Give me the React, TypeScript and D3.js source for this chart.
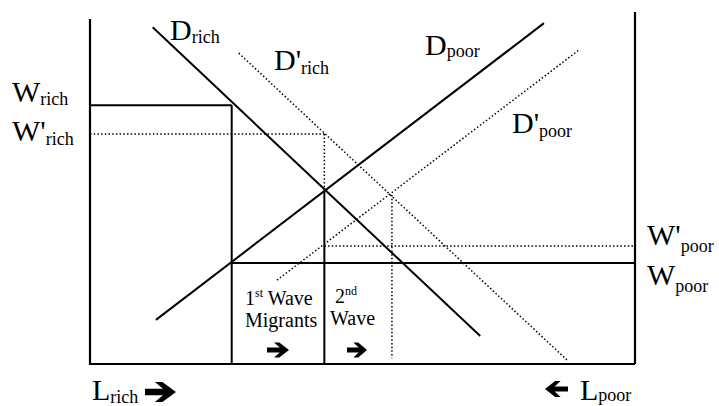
import React from "react";
import * as d3 from "d3";

// Abstract diagram units: labour 0..100 (x), wage 0..100 (y)
const demandRich: [number, number][] = [[11.5, 97.6], [71.6, 8.1]];
const demandRichNew: [number, number][] = [[27.3, 90.1], [87.5, 1.2]];
const demandPoor: [number, number][] = [[12.1, 12.8], [83.3, 98.8]];
const demandPoorNew: [number, number][] = [[34.3, 24.3], [89.7, 91.0]];

const wageRich = 75;
const wageRichNew = 66.7;
const wagePoor = 29.3;
const wagePoorNew = 34.2;
const equilibriumWage = 50.3;
const secondEquilibriumWage = 49;

const labourFirst = 26;
const labourSecond = 43;
const labourThird = 55.4;

const W = 719;
const H = 406;
const xScale = d3.scaleLinear().domain([0, 100]).range([90, 635]);
const yScale = d3.scaleLinear().domain([0, 100]).range([364, 19]);

const line = d3
  .line<[number, number]>()
  .x((d) => xScale(d[0]))
  .y((d) => yScale(d[1]));

const solidSegments: [number, number][][] = [
  [[0, wageRich], [labourFirst, wageRich]],
  [[labourFirst, wageRich], [labourFirst, 0]],
  [[labourSecond, equilibriumWage], [labourSecond, 0]],
  [[labourFirst, wagePoor], [100, wagePoor]],
  demandRich,
  demandPoor,
];
const dottedSegments: [number, number][][] = [
  [[0, wageRichNew], [labourSecond, wageRichNew]],
  [[labourSecond, wageRichNew], [labourSecond, equilibriumWage]],
  [[labourSecond, wagePoorNew], [100, wagePoorNew]],
  [[labourThird, secondEquilibriumWage], [labourThird, 1.7]],
  demandRichNew,
  demandPoorNew,
];
const axes: [number, number][][] = [
  [[0, 100], [0, 0], [100, 0]],
  [[100, 0], [100, 102]],
];

const FONT = "Liberation Serif, Times New Roman, serif";

function Label({ x, y, main, sub, subDy }: { x: number; y: number; main: string; sub: string; subDy: number }) {
  return (
    <text x={x} y={y} style={{ fontFamily: FONT }} fontSize={30} fill="#000">
      {main}
      <tspan fontSize={18} dy={subDy}>{sub}</tspan>
    </text>
  );
}

function Arrow({ x, y, w, h, dir }: { x: number; y: number; w: number; h: number; dir: 1 | -1 }) {
  const pts = [
    [0, -0.16], [0.58, -0.16], [0.32, -0.5], [0.56, -0.5], [1, 0],
    [0.56, 0.5], [0.32, 0.5], [0.58, 0.16], [0, 0.16],
  ];
  const d =
    "M" +
    pts
      .map(([px, py]) => {
        const ax = dir === 1 ? x + px * w : x + w - px * w;
        return `${ax.toFixed(2)},${(y + py * h).toFixed(2)}`;
      })
      .join("L") +
    "Z";
  return <path d={d} fill="#000" />;
}

export default function App() {
  return (
    <svg width={W} height={H} style={{ position: "absolute", left: 0, top: 0, background: "#fff" }}>
      <rect x={0} y={0} width={W} height={H} fill="#fff" />
      {axes.map((s, i) => (
        <path key={"a" + i} d={line(s) || ""} fill="none" stroke="#000" strokeWidth={2.2} />
      ))}
      {solidSegments.map((s, i) => (
        <path key={"s" + i} d={line(s) || ""} fill="none" stroke="#000" strokeWidth={2} />
      ))}
      {dottedSegments.map((s, i) => (
        <path key={"d" + i} d={line(s) || ""} fill="none" stroke="#000" strokeWidth={1.5} strokeDasharray="1.5,2.2" />
      ))}

      <Label x={12} y={102} main="W" sub="rich" subDy={3} />
      <Label x={12} y={141} main="W'" sub="rich" subDy={4} />
      <Label x={170} y={40} main="D" sub="rich" subDy={3} />
      <Label x={274} y={70} main="D'" sub="rich" subDy={4} />
      <Label x={425} y={55} main="D" sub="poor" subDy={2} />
      <Label x={512} y={133} main="D'" sub="poor" subDy={4} />
      <Label x={647} y={245} main="W'" sub="poor" subDy={7} />
      <Label x={647} y={285} main="W" sub="poor" subDy={7} />
      <Label x={92} y={400} main="L" sub="rich" subDy={3} />
      <Label x={580} y={400} main="L" sub="poor" subDy={1} />

      <Arrow x={145} y={392} w={31} h={20} dir={1} />
      <Arrow x={545} y={389} w={23} h={16} dir={-1} />

      <text x={245} y={305} style={{ fontFamily: FONT }} fontSize={20} fill="#000">
        1<tspan fontSize={12} dy={-8}>st</tspan>
        <tspan dy={8}> Wave</tspan>
      </text>
      <text x={245} y={327} style={{ fontFamily: FONT }} fontSize={20} fill="#000">Migrants</text>
      <Arrow x={267} y={350} w={22} h={15} dir={1} />

      <text x={335} y={303} style={{ fontFamily: FONT }} fontSize={20} fill="#000">
        2<tspan fontSize={12} dy={-8}>nd</tspan>
      </text>
      <text x={330} y={325} style={{ fontFamily: FONT }} fontSize={20} fill="#000">Wave</text>
      <Arrow x={347} y={350} w={20} h={15} dir={1} />
    </svg>
  );
}
